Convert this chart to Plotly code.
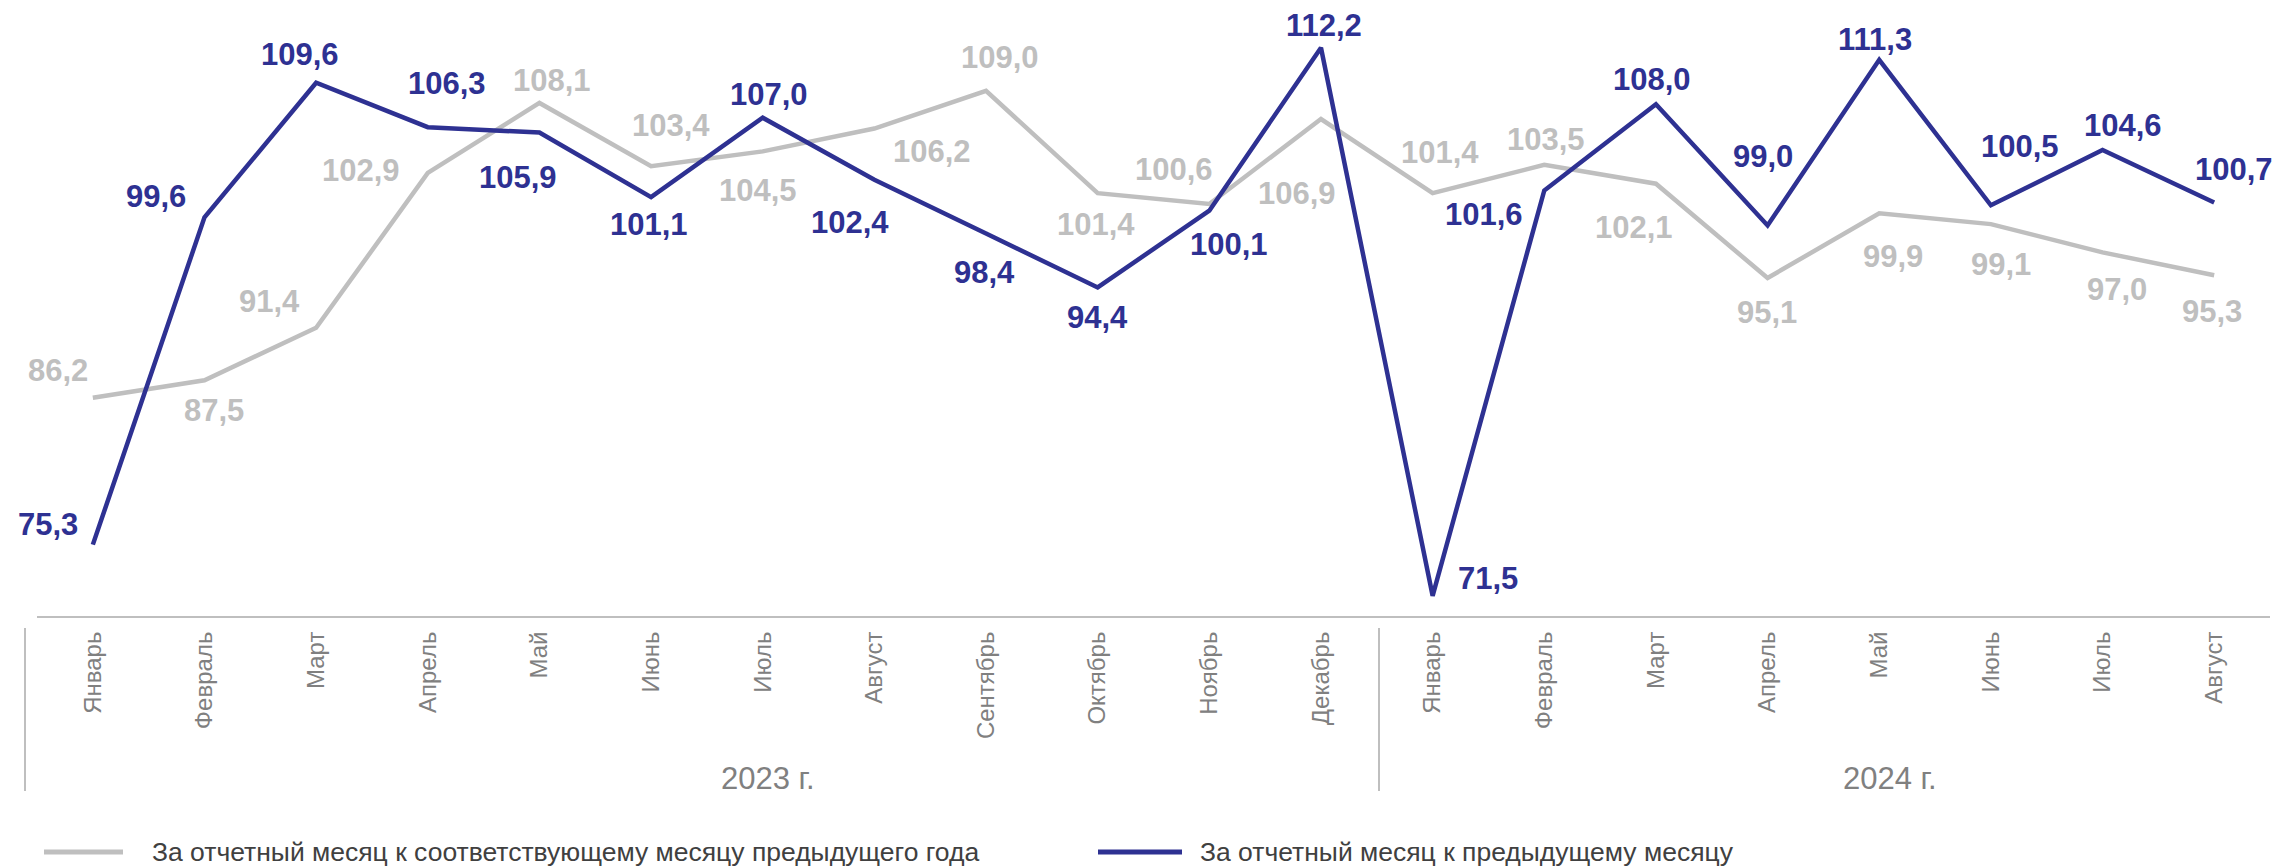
import plotly.graph_objects as go

# ---------------- data ----------------
months = ["Январь", "Февраль", "Март", "Апрель", "Май", "Июнь", "Июль", "Август",
          "Сентябрь", "Октябрь", "Ноябрь", "Декабрь",
          "Январь", "Февраль", "Март", "Апрель", "Май", "Июнь", "Июль", "Август"]
years = ["2023 г.", "2024 г."]
yoy_name = "За отчетный месяц к соответствующему месяцу предыдущего года"
mom_name = "За отчетный месяц к предыдущему месяцу"

yoy_values = [86.2, 87.5, 91.4, 102.9, 108.1, 103.4, 104.5, 106.2, 109.0, 101.4, 100.6, 106.9,
              101.4, 103.5, 102.1, 95.1, 99.9, 99.1, 97.0, 95.3]
mom_values = [75.3, 99.6, 109.6, 106.3, 105.9, 101.1, 107.0, 102.4, 98.4, 94.4, 100.1, 112.2,
              71.5, 101.6, 108.0, 99.0, 111.3, 100.5, 104.6, 100.7]

# label offsets (screen px: dx right, dy down) - styling only
yoy_offsets = [(-35, -27), (10, 30), (-47, -26), (-67, -2), (13, -22), (20, -41), (-5, 39),
               (58, 23), (14, -33), (-2, 31), (-35, -34), (-24, 74), (7, -41), (2, -25),
               (-22, 44), (-1, 35), (14, 43), (10, 40), (14, 37), (-2, 36)]
mom_offsets = [(-45, -20), (-48, -21), (-16, -28), (19, -44), (-21, 45), (-2, 27), (6, -23),
               (-24, 43), (-2, 39), (0, 30), (20, 34), (3, -22), (55, -17), (-60, 24),
               (-4, -25), (-5, -69), (-4, -20), (29, -59), (20, -25), (20, -33)]

# ---------------- style ----------------
W, H = 2274, 867
ML, MR, MT, MB = 37, 4, 10, 251
PW, PH = W - ML - MR, H - MT - MB
GRAY = "#BFBFBF"
BLUE = "#2E3192"
FONT = "Liberation Sans, Arial, sans-serif"

def px_x(px):
    return (px - ML) / PW

def px_y(py):
    return (H - MB - py) / PH

def fmt(v):
    return f"{v:.1f}".replace(".", ",")

x = list(range(len(months)))

fig = go.Figure()
fig.add_trace(go.Scatter(x=x, y=yoy_values, mode="lines", name=yoy_name,
                         line=dict(color=GRAY, width=4.5), showlegend=False,
                         hoverinfo="skip"))
fig.add_trace(go.Scatter(x=x, y=mom_values, mode="lines", name=mom_name,
                         line=dict(color=BLUE, width=4.5), showlegend=False,
                         hoverinfo="skip"))

annotations = []
for i, v in enumerate(yoy_values):
    dx, dy = yoy_offsets[i]
    annotations.append(dict(x=i, y=v, xref="x", yref="y", text=fmt(v), showarrow=False,
                            xanchor="center", yanchor="middle", xshift=dx, yshift=-dy,
                            font=dict(family=FONT, size=31, color=GRAY, weight="bold")))
for i, v in enumerate(mom_values):
    dx, dy = mom_offsets[i]
    annotations.append(dict(x=i, y=v, xref="x", yref="y", text=fmt(v), showarrow=False,
                            xanchor="center", yanchor="middle", xshift=dx, yshift=-dy,
                            font=dict(family=FONT, size=31, color=BLUE, weight="bold")))

# year group labels
for txt, px in zip(years, [768, 1890]):
    annotations.append(dict(x=px_x(px), y=px_y(778), xref="paper", yref="paper", text=txt,
                            showarrow=False, xanchor="center", yanchor="middle",
                            font=dict(family=FONT, size=31, color="#808080")))

# legend texts
for txt, px in zip([yoy_name, mom_name], [150, 1198]):
    annotations.append(dict(x=px_x(px), y=px_y(852), xref="paper", yref="paper", text=txt,
                            showarrow=False, xanchor="left", yanchor="middle",
                            font=dict(family=FONT, size=26.5, color="#404040")))

shapes = []
# group dividers
for px in [25, 1379]:
    shapes.append(dict(type="line", xref="paper", yref="paper",
                       x0=px_x(px), x1=px_x(px), y0=px_y(628), y1=px_y(791),
                       line=dict(color=GRAY, width=2)))
# legend samples
for (a, b), col in zip([(44, 123), (1098, 1182)], [GRAY, BLUE]):
    shapes.append(dict(type="line", xref="paper", yref="paper",
                       x0=px_x(a), x1=px_x(b), y0=px_y(852), y1=px_y(852),
                       line=dict(color=col, width=5)))

fig.update_layout(
    width=W, height=H,
    margin=dict(l=ML, r=MR, t=MT, b=MB),
    paper_bgcolor="white", plot_bgcolor="white",
    showlegend=False,
    annotations=annotations,
    shapes=shapes,
    xaxis=dict(range=[-0.5, len(months) - 0.5], tickmode="array", tickvals=x,
               ticktext=months, tickangle=-90, ticks="", showgrid=False, zeroline=False,
               showline=True, linecolor=GRAY, linewidth=2,
               tickfont=dict(family=FONT, size=24, color="#808080"),
               ticklabelstandoff=4, fixedrange=True),
    yaxis=dict(range=[70, 115], visible=False, showgrid=False, zeroline=False,
               fixedrange=True),
)

fig.write_html("out.html", config={"displayModeBar": False})

# remove the default page margin so the figure starts at the window's corner
with open("out.html", "r", encoding="utf-8") as f:
    html = f.read()
html = html.replace("<body>", '<body style="margin:0;padding:0;overflow:hidden">', 1)
with open("out.html", "w", encoding="utf-8") as f:
    f.write(html)
